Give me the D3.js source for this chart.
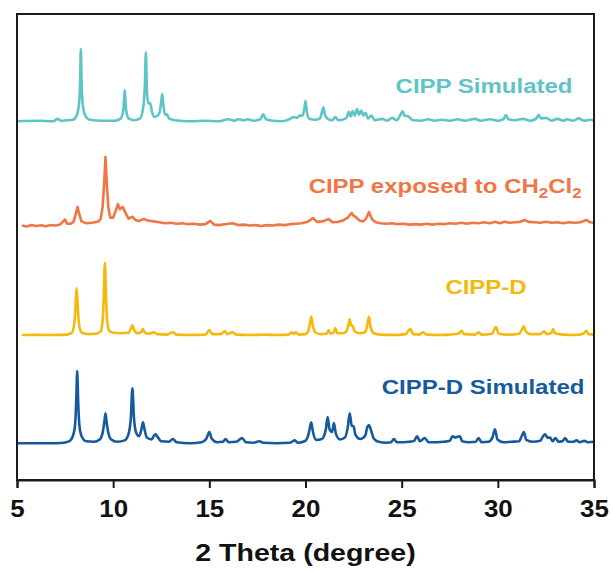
<!DOCTYPE html>
<html>
<head>
<meta charset="utf-8">
<script src="https://cdn.jsdelivr.net/npm/d3@7"></script>
<style>
  body { margin: 0; background: #fff; }
  svg text { font-family: "Liberation Sans", Arial, sans-serif; font-weight: bold; }
</style>
</head>
<body>
<svg width="614" height="574"></svg>
<script>
// x: 2 theta (deg), y: intensity (a.u.) above each pattern's own baseline
const xTicks = [5, 10, 15, 20, 25, 30, 35];

const cippSim = [
  [5.0,0],[6.2,0.1],[6.9,0],[7.1,0.5],[7.3,0.1],[7.6,0.2],[7.9,0.3],
  [8.1,1.2],[8.22,3.5],[8.28,8],[8.32,15.5],[8.36,8],[8.42,3.5],[8.55,1.2],[8.8,0.3],
  [9.4,0.1],[10.1,0.1],[10.4,0.6],[10.53,2.5],[10.6,6.7],[10.67,2.5],[10.8,0.6],[11.1,0.2],
  [11.4,0.6],[11.58,3.5],[11.65,8],[11.7,14.8],[11.75,7],[11.82,3.8],[11.92,3.9],[12.02,2.0],[12.15,0.9],
  [12.38,1.5],[12.5,4.2],[12.55,5.8],[12.61,3.5],[12.7,1.4],[12.8,1.5],[12.9,0.6],[13.2,0.2],
  [14.0,0],[14.8,0.1],[15.5,0],[16.0,0.4],[16.3,0.1],[16.5,0.4],[16.8,0.2],[17.0,0.4],[17.3,0.1],
  [17.65,0.4],[17.8,1.5],[17.95,0.4],[18.3,0.1],[18.8,0],[19.2,0.5],[19.4,0.9],[19.55,0.7],[19.7,1.2],[19.85,1.2],
  [19.95,3.0],[20.0,4.3],[20.07,2.0],[20.2,0.5],[20.5,0.3],[20.75,0.6],[20.87,2.2],[20.93,3.0],[21.0,1.5],[21.15,0.5],
  [21.4,0.2],[21.55,0.9],[21.7,0.2],[22.0,0.4],[22.15,0.8],[22.25,2.0],[22.35,1.0],[22.45,2.2],[22.55,1.2],
  [22.68,2.6],[22.78,1.4],[22.9,2.3],[23.0,1.2],[23.12,1.8],[23.25,0.6],[23.42,1.2],[23.6,0.2],
  [24.0,0.5],[24.25,0.1],[24.5,0.7],[24.75,0.2],[24.95,1.5],[25.05,2.1],[25.15,1.2],[25.35,1.0],[25.6,0.2],
  [26.0,0.1],[26.4,0.4],[26.7,0.1],[27.1,0.3],[27.5,0.1],[27.9,0.4],[28.3,0.1],[28.8,0.5],[29.1,0.1],[29.6,0.4],[30.0,0.1],
  [30.3,0.5],[30.42,1.3],[30.55,0.4],[30.9,0.2],[31.3,0.5],[31.7,0.1],[32.0,0.6],[32.12,1.3],[32.25,0.6],[32.5,0.7],
  [32.8,0.1],[33.1,0.5],[33.4,0.1],[33.6,0.4],[33.9,0.1],[34.2,0.6],[34.5,0.1],[34.8,0.3],[35.0,0.1]
];

const cippCH2Cl2 = [
  [5.25,0.1],[5.5,-0.1],[5.75,0.2],[6.0,0],[6.25,0.15],[6.5,-0.05],[6.75,0.2],[7.0,0.1],[7.25,0.35],[7.5,1.4],[7.6,0.5],[7.8,0.5],
  [7.95,1.0],[8.08,3.0],[8.15,4.1],[8.22,2.8],[8.35,1.0],[8.6,0.6],[8.9,0.7],[9.2,0.9],[9.35,1.5],[9.45,4],[9.53,9],
  [9.6,14.8],[9.67,9],[9.75,4],[9.85,1.8],[10.0,1.8],
  [10.15,3.5],[10.25,4.7],[10.35,3.6],[10.5,4.1],[10.62,3.0],[10.8,1.6],[11.0,2.0],[11.15,1.3],[11.35,1.1],[11.6,1.5],
  [11.8,1.2],[12.1,1.0],[12.4,0.8],[12.7,0.6],[13.0,0.7],[13.3,0.5],[13.6,0.6],[13.9,0.4],[14.2,0.5],[14.5,0.3],[14.8,0.4],
  [15.05,1.1],[15.25,0.3],[15.5,0.2],[15.8,0.4],[16.2,0.6],[16.5,0.2],[16.8,0.3],[17.1,0.1],[17.4,0.2],[17.7,0],[18.0,0.2],
  [18.3,0.1],[18.6,0.3],[18.9,0.2],[19.2,0.4],[19.5,0.5],[19.8,0.6],[20.1,0.9],
  [20.4,1.7],[20.6,0.9],[20.9,1.0],[21.2,1.5],[21.4,0.8],[21.7,0.9],[21.95,1.2],[22.2,1.8],[22.4,2.8],[22.5,2.2],[22.6,2.0],
  [22.8,1.2],[23.0,1.0],[23.15,1.6],[23.3,3.0],[23.45,1.5],[23.65,0.8],
  [23.9,0.6],[24.2,0.5],[24.5,0.6],[24.8,0.4],[25.1,0.5],[25.4,0.3],[25.7,0.4],[26.0,0.3],[26.3,0.5],[26.6,0.3],[26.9,0.5],
  [27.2,0.4],[27.5,0.6],[27.8,0.5],[28.1,0.7],[28.4,0.5],[28.7,0.7],[29.0,0.6],[29.3,0.8],[29.6,0.6],[29.85,0.9],[30.1,0.6],
  [30.35,0.9],[30.6,0.7],[30.9,0.8],[31.15,0.9],[31.4,1.3],[31.6,0.9],[31.9,0.8],[32.2,0.7],[32.5,0.9],[32.8,0.7],[33.1,0.8],
  [33.4,0.6],[33.7,0.8],[34.0,0.7],[34.3,0.8],[34.6,1.3],[34.8,0.8],[35.0,0.7]
];

const cippD = [
  [5.25,0],[6.0,0.05],[7.0,0],[7.6,0.1],[7.85,0.5],[7.98,2.5],[8.04,6],[8.1,10.1],[8.16,6],[8.22,2.5],[8.35,0.6],[8.7,0.2],
  [9.1,0.3],[9.35,0.8],[9.45,3],[9.51,8],[9.57,15.5],[9.63,8],[9.69,3],[9.8,0.9],[10.0,0.5],[10.4,0.4],[10.8,0.5],[10.93,1.5],
  [11.0,2.1],[11.07,1.3],[11.25,0.4],[11.45,0.6],[11.55,1.3],[11.65,0.5],[11.9,0.3],[12.1,0.6],[12.3,0.2],[12.8,0.1],[13.1,0.6],
  [13.3,0.1],[14.0,0],[14.8,0.1],[15.0,1.1],[15.15,0.2],[15.6,0.2],[15.8,0.8],[15.95,0.2],[16.2,0.6],[16.4,0.1],[17.0,0],
  [17.9,0.1],[18.5,0],[19.1,0.1],[19.3,0.6],[19.4,0.2],[19.5,0.6],[19.65,0.1],
  [20.0,0.2],[20.15,0.9],[20.23,2.5],[20.3,3.9],[20.37,2.3],[20.5,0.6],[20.8,0.2],[21.1,0.3],[21.2,1.1],[21.3,0.3],[21.45,0.5],
  [21.55,1.5],[21.65,0.4],[21.95,0.4],[22.15,1.0],[22.25,2.6],[22.3,3.4],[22.37,2.0],[22.45,2.0],[22.55,0.8],[22.8,0.4],
  [23.1,0.6],[23.22,2.2],[23.3,3.9],[23.38,1.8],[23.55,0.4],
  [23.9,0.1],[24.5,0],[25.2,0.2],[25.45,1.3],[25.6,0.2],[25.9,0.1],[26.1,0.6],[26.3,0.1],[27.0,0],[27.5,0.1],[28.0,0.4],
  [28.1,0.9],[28.25,0.2],[28.8,0.1],[29.0,0.6],[29.15,0.1],[29.7,0.3],[29.9,1.7],[30.05,0.3],[30.6,0.1],[31.1,0.3],[31.28,1.4],
  [31.35,1.9],[31.45,0.8],[31.7,0.2],[32.2,0.2],[32.4,0.8],[32.55,0.2],[32.8,0.5],[32.87,1.3],[32.97,0.4],[33.4,0.1],[34.0,0],
  [34.45,0.3],[34.6,0.9],[34.72,0.2],[35.0,0.1]
];

const cippDSim = [
  [5.0,0],[6.5,0],[7.3,0.05],[7.7,0.4],[7.9,1.5],[8.02,4],[8.08,9],[8.13,15.5],[8.18,9],[8.24,4],[8.36,1.5],[8.6,0.4],[9.0,0.3],
  [9.3,0.8],[9.45,2.2],[9.54,4.5],[9.6,6.4],[9.66,4.5],[9.75,2.2],[9.9,0.8],[10.2,0.3],[10.6,0.6],[10.8,2],[10.92,5.5],
  [11.0,11.8],[11.08,5.5],[11.2,2.2],[11.35,1.5],[11.47,3],[11.55,4.5],[11.63,3],[11.75,1.2],[12.0,0.8],[12.12,1.6],[12.2,1.9],
  [12.3,1.4],[12.5,0.4],[12.9,0.3],[13.1,0.9],[13.3,0.2],[14.0,0],[14.6,0.2],[14.85,1.0],[15.0,2.4],[15.12,1.0],[15.4,0.2],
  [15.7,0.3],[15.85,0.9],[16.0,0.2],[16.4,0.3],[16.7,1.1],[16.9,0.2],[17.3,0.1],[17.6,0.4],[17.8,0.1],[18.5,0],[19.2,0.1],
  [19.45,0.6],[19.6,0.1],
  [19.95,0.4],[20.15,1.8],[20.25,3.8],[20.3,4.5],[20.38,2.6],[20.55,0.7],[20.85,0.9],[21.05,2.8],[21.15,5.6],[21.25,3.0],
  [21.38,2.4],[21.48,4.3],[21.58,2.0],[21.8,0.8],[22.05,1.2],[22.2,3.5],[22.3,6.4],[22.4,3.8],[22.5,3.6],[22.6,1.8],[22.85,0.9],
  [23.1,1.6],[23.22,3.5],[23.3,3.9],[23.42,2.6],[23.55,1.0],[23.8,0.3],[24.2,0.1],[24.45,0.2],[24.6,0.9],[24.75,0.2],[25.1,0.2],
  [25.4,0.3],[25.65,0.5],[25.8,1.5],[25.95,0.4],[26.2,1.1],[26.4,0.2],[26.8,0.2],[27.2,0.3],[27.5,0.5],[27.65,1.5],[27.8,1.2],
  [27.9,1.4],[28.02,1.5],[28.15,0.4],[28.5,0.2],[28.85,0.3],[29.0,1.1],[29.15,0.2],[29.5,0.3],[29.72,1.2],[29.85,3.0],
  [29.98,0.8],[30.3,0.2],[30.7,0.3],[31.1,0.4],[31.25,1.6],[31.35,2.4],[31.48,0.7],[31.8,0.3],[32.2,0.5],[32.35,1.5],
  [32.45,1.9],[32.58,1.2],[32.72,1.2],[32.85,0.4],[33.0,1.1],[33.15,0.3],[33.35,0.4],[33.5,1.1],[33.65,0.3],[33.9,0.3],
  [34.1,0.6],[34.25,0.2],[34.5,0.5],[34.7,0.2],[35.0,0.3]
];

const names   = ["CIPP-D Simulated", "CIPP-D", "CIPP exposed to CH2Cl2", "CIPP Simulated"];
const offsets = [7.9, 31.1, 54.5, 77.0];
const colors  = ["#155a9e", "#f6b80c", "#f07646", "#5ec4c6"];
const series  = [cippDSim, cippD, cippCH2Cl2, cippSim];
// label anchor: [2theta at text end, intensity above baseline (text baseline)]
const labelPos = [[34.5, 10.55], [31.5, 8.8], [34.35, 7.1], [33.88, 6.05]];

const margin = {top: 14, right: 20, bottom: 94, left: 17};
const W = 614, H = 574;
const svg = d3.select("svg");

const x = d3.scaleLinear().domain([5, 35]).range([margin.left, W - margin.right]);
const y = d3.scaleLinear().domain([0, 100]).range([H - margin.bottom, margin.top]);

const line = d3.line()
  .x(d => x(d[0]))
  .y(d => y(d[1]));

series.forEach((s, i) => {
  svg.append("path")
    .datum(s.map(p => [p[0], p[1] + offsets[i]]))
    .attr("fill", "none")
    .attr("stroke", colors[i])
    .attr("stroke-width", 2.6)
    .attr("stroke-linejoin", "round")
    .attr("d", line.curve(i == 2 ? d3.curveLinear : d3.curveMonotoneX));
});

// labels (the original lettering is a bit wider than Arial, so stretch it)
names.forEach((n, i) => {
  const t = svg.append("text")
    .attr("transform", `translate(${x(labelPos[i][0])},${y(labelPos[i][1] + offsets[i])}) scale(1.2,1)`)
    .attr("text-anchor", "end")
    .attr("fill", colors[i])
    .attr("font-size", 20);
  if (n.includes("CH2Cl2")) {
    t.append("tspan").text("CIPP exposed to CH");
    t.append("tspan").attr("font-size", 14).attr("dy", 5).text("2");
    t.append("tspan").attr("dy", -5).text("Cl");
    t.append("tspan").attr("font-size", 14).attr("dy", 5).text("2");
  } else {
    t.text(n);
  }
});

// frame
svg.append("rect")
  .attr("x", margin.left).attr("y", margin.top)
  .attr("width", W - margin.left - margin.right)
  .attr("height", H - margin.top - margin.bottom)
  .attr("fill", "none").attr("stroke", "#1a1a1a").attr("stroke-width", 2);

const xAxis = svg.append("g")
  .attr("transform", `translate(0,${H - margin.bottom})`)
  .call(d3.axisBottom(x).tickValues(xTicks).tickSize(8).tickPadding(12));
xAxis.select(".domain").attr("stroke", "#1a1a1a").attr("stroke-width", 2);
xAxis.selectAll(".tick line").attr("stroke", "#1a1a1a").attr("stroke-width", 2);
xAxis.selectAll(".tick text")
  .attr("font-size", 24).attr("fill", "#111")
  .attr("transform", "scale(1.08,1)")
  .attr("font-family", "Liberation Sans, Arial, sans-serif").attr("font-weight", "bold");

svg.append("text")
  .attr("transform", `translate(${(margin.left + W - margin.right) / 2},561) scale(1.19,1)`)
  .attr("text-anchor", "middle")
  .attr("font-size", 24)
  .attr("fill", "#111")
  .text("2 Theta (degree)");
</script>
</body>
</html>
